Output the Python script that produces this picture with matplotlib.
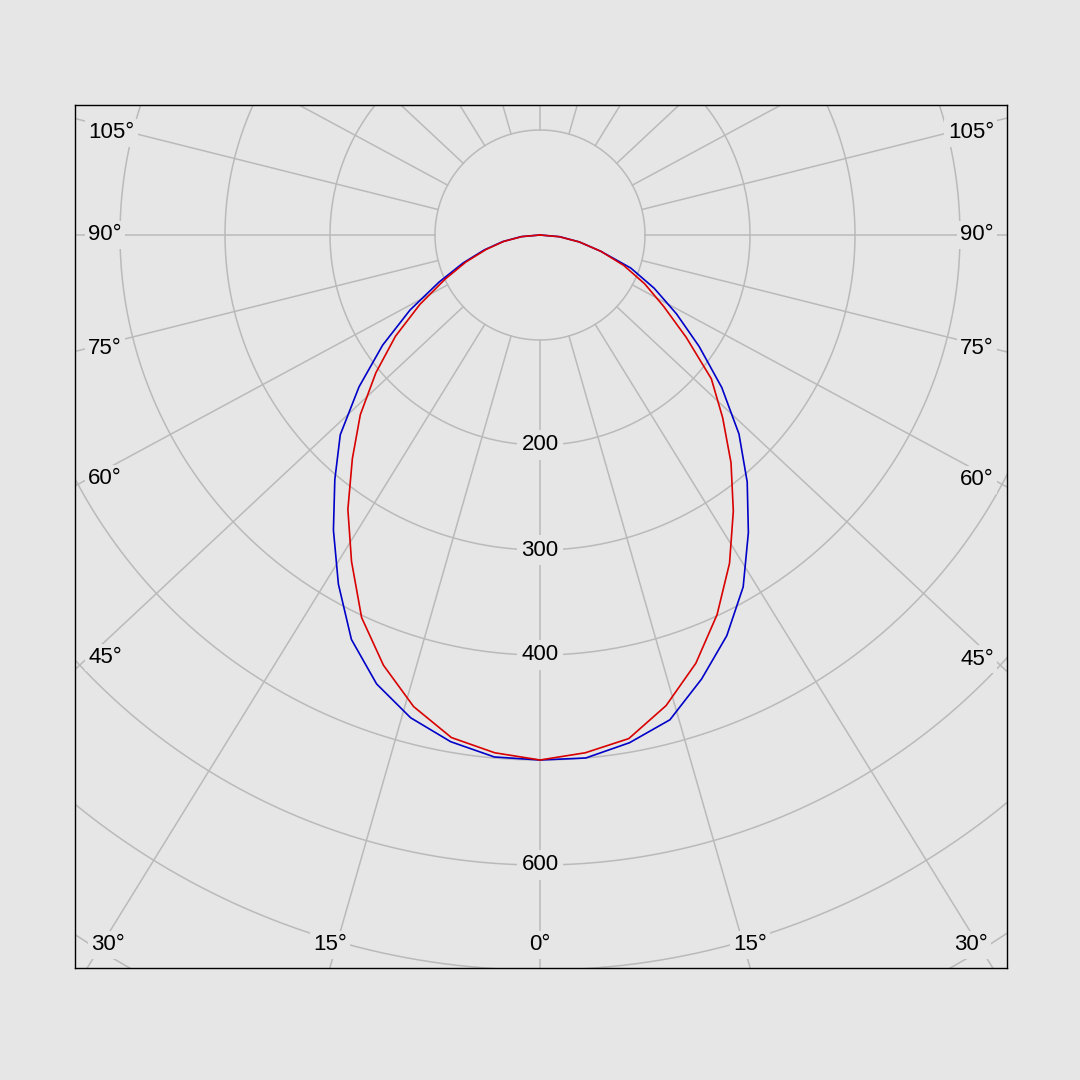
import numpy as np
import matplotlib
matplotlib.use("Agg")
import matplotlib.pyplot as plt

# ---------------- data ----------------
angles = [0, 5, 10, 15, 20, 25, 30, 35, 40, 45, 50, 55, 60, 65, 70, 75, 80, 85, 90]  # deg from nadir
blue_left = [500, 499, 490, 476, 455, 425, 384, 343, 304, 269, 225, 183, 143, 106, 78, 55, 36, 18, 0]
blue_right = [500, 500, 491, 478, 450, 421, 387, 346, 307, 268, 226, 185, 150, 120, 92, 60, 38, 19, 0]
red_left = [500, 495, 486, 465, 436, 402, 359, 319, 278, 242, 204, 168, 132, 100, 75, 53, 35, 17, 0]
red_right = [500, 495, 487, 464, 434, 399, 361, 321, 283, 246, 213, 170, 136, 110, 85, 60, 38, 18, 0]

ring_values = [100, 200, 300, 400, 500, 600, 700, 800, 900]
ring_labels = [200, 300, 400, 600]
grid_angles = list(range(0, 360, 15))
angle_labels = [0, 15, 30, 45, 60, 75, 90, 105]

# ---------------- style ----------------
BG = "#e6e6e6"
GRID = "#bababa"
FONT = "Liberation Sans"
FS = 16
PX = 1.05          # pixels per cd
SX = 1.07          # horizontal stretch of the angular grid
CX, CY = 540, 235  # pixel position of the origin

fig = plt.figure(figsize=(10.8, 10.8), dpi=100)
fig.patch.set_facecolor(BG)
L, R, T, B = 75, 1007, 105, 968
ax = fig.add_axes([L / 1080, 1 - B / 1080, (R - L) / 1080, (B - T) / 1080])
ax.set_facecolor(BG)
x0, x1 = (L - CX) / PX, (R - CX) / PX
y0, y1 = -(B - CY) / PX, (CY - T) / PX
ax.set_xlim(x0, x1)
ax.set_ylim(y0, y1)
ax.set_xticks([])
ax.set_yticks([])
for sp in ax.spines.values():
    sp.set_color("black")
    sp.set_linewidth(1.0)

# rings
t = np.linspace(0, 2 * np.pi, 721)
for r in ring_values:
    ax.plot(r * np.cos(t), r * np.sin(t), color=GRID, lw=1.1, zorder=1)

# radial lines (start at the inner ring)
for a in grid_angles:
    ar = np.radians(a)
    d = np.array([SX * np.sin(ar), -np.cos(ar)])
    d /= np.hypot(*d)
    r0 = ring_values[0]
    ax.plot([r0 * d[0], 2000 * d[0]], [r0 * d[1], 2000 * d[1]], color=GRID, lw=1.1, zorder=1)

# ring labels
for r in ring_labels:
    ax.text(0, -r, str(r), ha="center", va="center", fontsize=FS, family=FONT, color="black",
            zorder=4, bbox=dict(boxstyle="square,pad=0.2", fc=BG, ec="none"))

# angle labels
inset = 13 / PX
inset_b = 16 / PX
xl, xr = x0 + inset, x1 - inset
yb_center = -(945 - CY) / PX
ytop_center = (CY - 133) / PX
half_w = 17 / PX
for a in angle_labels:
    sides = [1] if a == 0 else [-1, 1]
    for s in sides:
        ar = np.radians(a)
        dx, dy = s * SX * np.sin(ar), -np.cos(ar)
        lab = f"{a}°"
        t_side = (x1 / dx) if dx > 0 else ((x0 / dx) if dx < 0 else np.inf)
        t_bot = (y0 / dy) if dy < 0 else np.inf
        if t_side < t_bot:
            xx = xl if s < 0 else xr
            yy = min((xx / dx) * dy, ytop_center)
            ha = "left" if s < 0 else "right"
        else:
            xx = t_bot * dx
            yy = yb_center
            ha = "center"
            if xx - half_w < x0 + inset_b:
                xx, ha = x0 + inset_b, "left"
            elif xx + half_w > x1 - inset_b - 3 / PX:
                xx, ha = x1 - inset_b - 3 / PX, "right"
        ax.text(xx, yy, lab, ha=ha, va="center", fontsize=FS, family=FONT, color="black",
                zorder=4, bbox=dict(boxstyle="square,pad=0.15", fc=BG, ec="none"))

# curves
ang = np.radians(np.array(angles))


def loop(left, right):
    left = np.array(left, float)
    right = np.array(right, float)
    xs = np.concatenate([-left[::-1] * np.sin(ang[::-1]), right * np.sin(ang)])
    ys = np.concatenate([-left[::-1] * np.cos(ang[::-1]), -right * np.cos(ang)])
    return xs, ys


bx, by = loop(blue_left, blue_right)
rx, ry = loop(red_left, red_right)
ax.plot(bx, by, color="#0000c8", lw=1.2, zorder=5)
ax.plot(rx, ry, color="#d80000", lw=1.2, zorder=6)

fig.savefig("out.png", dpi=100, facecolor=BG)
